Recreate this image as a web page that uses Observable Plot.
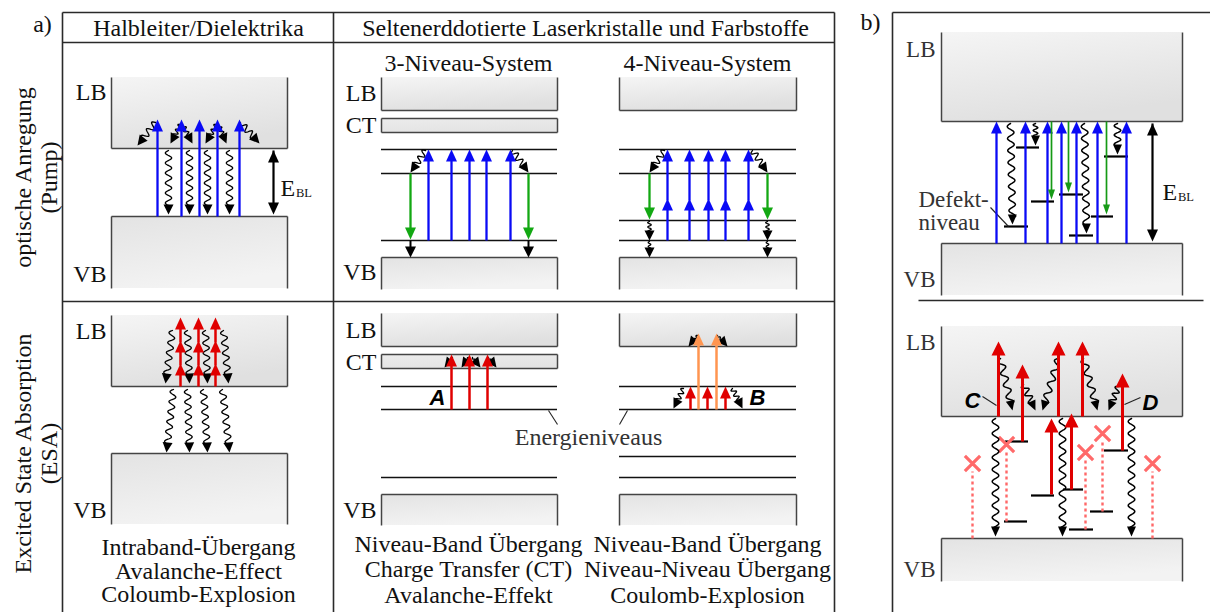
<!DOCTYPE html>
<html><head><meta charset="utf-8">
<script src="https://cdn.jsdelivr.net/npm/d3@7"></script>
<script src="https://cdn.jsdelivr.net/npm/@observablehq/plot@0.6"></script>
<style>html,body{margin:0;padding:0;background:#fff;} #chart svg{display:block}</style>
</head><body><div id="chart"></div>
<script>
// ---------------- data (diagram coordinates) ----------------
const frameLines = [[62,12,834,12],[62,42,834,42],[62,12,62,612],[333,12,333,612],[834,12,834,612],[62,301,834,301],
  [892,12,1210,12],[892,12,892,612],[918,300,1203,300]];

const bands = [
  {x1:111,x2:287,y1:77,y2:148,kind:"LB"},{x1:111,x2:287,y1:216,y2:288,kind:"VB"},
  {x1:381,x2:557,y1:77,y2:110,kind:"LB"},{x1:381,x2:557,y1:118,y2:132,kind:"CT"},{x1:381,x2:557,y1:257,y2:289,kind:"VB"},
  {x1:619,x2:796,y1:77,y2:110,kind:"LB"},{x1:619,x2:796,y1:257,y2:289,kind:"VB"},
  {x1:111,x2:287,y1:315,y2:386,kind:"LB"},{x1:111,x2:287,y1:453,y2:524,kind:"VB"},
  {x1:381,x2:557,y1:313,y2:346,kind:"LB"},{x1:381,x2:557,y1:354,y2:368,kind:"CT"},{x1:381,x2:557,y1:494,y2:525,kind:"VB"},
  {x1:619,x2:796,y1:313,y2:346,kind:"LB"},{x1:619,x2:796,y1:494,y2:525,kind:"VB"},
  {x1:941,x2:1182,y1:32,y2:121,kind:"LB"},{x1:941,x2:1182,y1:243,y2:295,kind:"VB"},
  {x1:941,x2:1182,y1:326,y2:416,kind:"LB"},{x1:941,x2:1182,y1:538,y2:581,kind:"VB"}
];

const bandLabels = [
  [106,92,"LB"],[106,274,"VB"],[376,93,"LB"],[376,125,"CT"],[376,272,"VB"],
  [106,331,"LB"],[106,510,"VB"],[376,330,"LB"],[376,362,"CT"],[376,510,"VB"]];
const bandLabelsB = [[935,49,"LB"],[935,279,"VB"],[935,342,"LB"],[935,569,"VB"]];

const levels = [[381,557,149],[381,557,173],[381,557,240],
  [619,796,149],[619,796,173],[619,796,220],[619,796,240],
  [381,557,386],[381,557,409],[381,557,477],
  [619,796,386],[619,796,409],[619,796,456],[619,796,477]];
const defects = [[1004,1028,226],[1016,1039,147],[1031,1054,201],[1059,1083,194],[1069,1093,235],[1091,1113,216],[1104,1128,156],
  [1005,1028,441],[1031,1054,495],[1063,1083,489],[1004,1027,521],[1090,1113,511],[1069,1093,529],[1104,1128,450]];

// arrows: [x1,y1,x2,y2] from -> to (head at "to")
const pump = [
  [157,216,157,119],[181,216,181,119],[199,216,199,119],[217,216,217,119],[239,216,239,119],
  [428,240,428,149],[451,240,451,149],[469,240,469,149],[486,240,486,149],[510,240,510,149],
  [667,240,667,198],[689,240,689,198],[708,240,708,198],[725,240,725,198],[748,240,748,198],
  [667,200,667,149],[689,200,689,149],[708,200,708,149],[725,200,725,149],[748,200,748,149]];
const pumpB = [[996,243,996,121],[1025,243,1025,121],[1047,243,1047,121],[1061,243,1061,121],[1076,243,1076,121],[1097,243,1097,121],[1126,243,1126,121]];
const emit = [[410,173,410,239],[528,173,528,239],[649,173,649,219],[767,173,767,219]];
const emitB = [[1051,121,1051,199],[1068,121,1068,192],[1106,121,1106,214]];
const relax = [[410,240,410,257],[528,240,528,257]];
const gaps = [[273,150,273,214],[1152,123,1152,241]];
const esa = [
  [180,386,180,363],[180,365,180,340],[180,342,180,317],
  [198,386,198,363],[198,365,198,340],[198,342,198,317],
  [215,386,215,363],[215,365,215,340],[215,342,215,317],
  [451,409,451,354],[469,409,469,354],[487,409,487,354],
  [690,409,690,386],[707,409,707,386],[725,409,725,386]];
const esaOrange = [[698,409,698,333],[716,409,716,333]];
const esaB = [[998,416,998,341],[1022,441,1022,364],[1058,416,1058,341],[1082,416,1082,341],[1122,450,1122,373],[1051,494,1051,418],[1071,489,1071,413]];
const wavy = [
  [168,150,168,214],[189,150,189,214],[207,150,207,214],[229,150,229,214],
  [155,122,137,145],[180,124,170,143],[182,124,192,143],[216,124,205,143],[218,124,226,143],[240,122,259,143],
  [425,150,410,172],[512,150,528,172],[664,150,649,172],[752,150,767,172],
  [649,221,649,240],[767,221,767,240],[649,241,649,257],[767,241,767,257],
  [172,330,165,383],[187,330,189,383],[205,330,207,383],[223,330,228,383],
  [173,389,166,452],[187,389,189,452],[203,389,207,452],[222,389,229,452],
  [683,388,673,408],[732,388,742,408],[697,335,688,346],[717,335,727,346],
  [452,357,444,367],[468,357,461,367],[472,357,480,367],[488,357,496,367]];
const wavyB = [[1010,123,1012,224],[1035,123,1035,145],[1084,123,1086,233],[1117,123,1117,154],
  [995,418,995,536],[1062,418,1062,536],[1131,418,1131,536],
  [1000,358,1012,410],[1023,384,1035,410],[1058,358,1042,410],[1083,358,1097,410],[1118,386,1108,410]];
const blocked = [[972,538,972,471],[1006,521,1006,452],[1085,529,1085,460],[1102,511,1102,441],[1152,538,1152,471]];
const crosses = [[972,463],[1006,444],[1085,452],[1102,433],[1152,463]];
const leaders = [[548,410,557,424],[627,410,619,424],[990,207,1008,226],[982,396,996,405],[1140,397,1124,404]];

const headers = [[198,28,"Halbleiter/Dielektrika"],[585,28,"Seltenerddotierte Laserkristalle und Farbstoffe"],
  [468,63,"3-Niveau-System"],[707,63,"4-Niveau-System"]];
const panelTags = [[42,24,"a)"],[870,22,"b)"]];
const rowLabels = [[23,177,"optische Anregung"],[49,177,"(Pump)"],[23,453,"Excited State Absorption"],[49,453,"(ESA)"]];
const captionLeft = [[198,570.5,"Intraband-Übergang\nAvalanche-Effect\nColoumb-Explosion"]];
const captionMid = [[468,568.5,"Niveau-Band Übergang\nCharge Transfer (CT)\nAvalanche-Effekt"],
  [707,568.5,"Niveau-Band Übergang\nNiveau-Niveau Übergang\nCoulomb-Explosion"]];
const noteCenter = [[588,437,"Energieniveaus"]];
const noteLeft = [[918,211,"Defekt-\nniveau"]];
const processTags = [[437,397,"A"],[757,397,"B"],[972,400,"C"],[1150,402,"D"]];
const ebl = [[280,188],[1162,192]];

// ---------------- helpers ----------------
const SERIF = "'Liberation Serif', 'Times New Roman', serif";
const symCache = new Map();
function headSym(angle, w, h) {
  const key = angle.toFixed(3)+"|"+w+"|"+h;
  if (symCache.has(key)) return symCache.get(key);
  const c = Math.cos(angle), s = Math.sin(angle);
  const sym = {draw(ctx) {
    const bx = -h*c, by = -h*s, px = -s*w/2, py = c*w/2;
    ctx.moveTo(0,0); ctx.lineTo(bx+px,by+py); ctx.lineTo(bx-px,by-py); ctx.closePath();
  }};
  symCache.set(key, sym); return sym;
}
function straightArrows(list, st) {
  const marks = [];
  const segs = list.map(([x1,y1,x2,y2]) => {
    const a = Math.atan2(y2-y1, x2-x1);
    return {x1, y1, x2: x2 - Math.cos(a)*(st.h-2), y2: y2 - Math.sin(a)*(st.h-2), tx: x2, ty: y2, a};
  });
  marks.push(Plot.link(segs, {x1:"x1", y1:"y1", x2:"x2", y2:"y2", stroke: st.color, strokeWidth: st.width}));
  for (const s of segs) marks.push(Plot.dot([s], {x:"tx", y:"ty", r:4, symbol: headSym(s.a, st.w, st.h), fill: st.color, stroke:"none"}));
  if (st.both) for (const [x1,y1,x2,y2] of list) {
    const a = Math.atan2(y1-y2, x1-x2);
    marks.push(Plot.dot([{x:x1,y:y1}], {x:"x", y:"y", r:4, symbol: headSym(a, st.w, st.h), fill: st.color, stroke:"none"}));
  }
  return marks;
}
function wavyArrows(list, st, prefix) {
  const pts = [], heads = [];
  list.forEach(([x1,y1,x2,y2], i) => {
    const a = Math.atan2(y2-y1, x2-x1), c = Math.cos(a), s = Math.sin(a);
    const L = Math.hypot(x2-x1, y2-y1) - (st.h - 2);
    const amp = Math.min(st.amp, L/6), wl = Math.min(st.wl, Math.max(4, L/2.5));
    const n = Math.max(8, Math.ceil(L/0.6));
    for (let k = 0; k <= n; k++) {
      const t = k/n*L, o = amp*Math.sin(2*Math.PI*t/wl);
      pts.push({id: prefix+i, x: x1 + c*t - s*o, y: y1 + s*t + c*o});
    }
    heads.push({x:x2, y:y2, a});
  });
  const marks = [Plot.line(pts, {x:"x", y:"y", z:"id", stroke: st.color, strokeWidth: st.width, curve:"linear"})];
  for (const hd of heads) marks.push(Plot.dot([hd], {x:"x", y:"y", r:4, symbol: headSym(hd.a, st.w, st.h), fill: st.color, stroke:"none"}));
  return marks;
}

// styles
const ST = {
  blue:{color:"#0a0af5", width:2.3, w:11, h:12},
  green:{color:"#13a813", width:2.3, w:11, h:12},
  greenB:{color:"#169a16", width:1.7, w:7, h:10},
  black:{color:"#000", width:2, w:11, h:11},
  gap:{color:"#000", width:2.2, w:11, h:12, both:true},
  red:{color:"#e00000", width:2.5, w:11, h:12},
  redB:{color:"#e00000", width:3, w:14, h:14},
  orange:{color:"#ff9550", width:2.5, w:11, h:12},
  wave:{color:"#000", width:1.3, w:10, h:10, amp:3.2, wl:10},
  waveB:{color:"#000", width:1.5, w:9, h:10, amp:3.3, wl:12}
};

// band edges derived from bands
const edges = [];
for (const b of bands) {
  edges.push([b.x1,b.y1,b.x1,b.y2],[b.x2,b.y1,b.x2,b.y2]);
  if (b.kind === "LB" || b.kind === "CT") edges.push([b.x1,b.y2,b.x2,b.y2]);
  if (b.kind === "VB" || b.kind === "CT") edges.push([b.x1,b.y1,b.x2,b.y1]);
}
const seg = (arr) => arr.map(([x1,y1,x2,y2]) => ({x1,y1,x2,y2}));
const hseg = (arr) => arr.map(([x1,x2,y]) => ({x1,x2,y}));
const txt = (arr) => arr.map(([x,y,t]) => ({x,y,t}));

const plot = Plot.plot({
  width: 1210, height: 612, margin: 0,
  x: {domain:[0,1210], range:[0,1210], axis:null},
  y: {domain:[0,612], range:[0,612], axis:null},
  style: {background:"#fff"},
  marks: [
    Plot.rect(bands, {x1:"x1", x2:"x2", y1:"y1", y2:"y2", fill:"#e8e8e8"}),
    Plot.link(seg(frameLines), {x1:"x1",y1:"y1",x2:"x2",y2:"y2", stroke:"#2a2a2a", strokeWidth:1.6}),
    Plot.link(seg(edges), {x1:"x1",y1:"y1",x2:"x2",y2:"y2", stroke:"#444", strokeWidth:1.5}),
    Plot.ruleY(hseg(levels), {x1:"x1", x2:"x2", y:"y", stroke:"#111", strokeWidth:1.4}),
    Plot.ruleY(hseg(defects), {x1:"x1", x2:"x2", y:"y", stroke:"#000", strokeWidth:2.2}),
    Plot.link(seg(leaders), {x1:"x1",y1:"y1",x2:"x2",y2:"y2", stroke:"#222", strokeWidth:1.1}),
    Plot.link(seg(blocked), {x1:"x1",y1:"y1",x2:"x2",y2:"y2", stroke:"#ff6868", strokeWidth:2.4, strokeDasharray:"3,3"}),
    Plot.dot(crosses.map(([x,y])=>({x,y})), {x:"x", y:"y", symbol:"times", r:7, stroke:"#ff6a6a", strokeWidth:3.2}),
    ...wavyArrows(wavy, ST.wave, "a"),
    ...wavyArrows(wavyB, ST.waveB, "b"),
    ...straightArrows(pump, ST.blue),
    ...straightArrows(pumpB, ST.blue),
    ...straightArrows(emit, ST.green),
    ...straightArrows(emitB, ST.greenB),
    ...straightArrows(relax, ST.black),
    ...straightArrows(gaps, ST.gap),
    ...straightArrows(esa, ST.red),
    ...straightArrows(esaOrange, ST.orange),
    ...straightArrows(esaB, ST.redB),
    Plot.text(txt(headers), {x:"x", y:"y", text:"t", fontSize:24, fontFamily:SERIF, fill:"#111"}),
    Plot.text(txt(panelTags), {x:"x", y:"y", text:"t", fontSize:24, fontFamily:SERIF, fill:"#111"}),
    Plot.text(txt(rowLabels), {x:"x", y:"y", text:"t", fontSize:24, fontFamily:SERIF, fill:"#111", rotate:-90}),
    Plot.text(txt(captionLeft), {x:"x", y:"y", text:"t", fontSize:24, lineHeight:0.98, fontFamily:SERIF, fill:"#111"}),
    Plot.text(txt(captionMid), {x:"x", y:"y", text:"t", fontSize:24, lineHeight:1.06, fontFamily:SERIF, fill:"#111"}),
    Plot.text(txt(bandLabels), {x:"x", y:"y", text:"t", fontSize:24, fontFamily:SERIF, fill:"#111", textAnchor:"end"}),
    Plot.text(txt(bandLabelsB), {x:"x", y:"y", text:"t", fontSize:23, fontFamily:SERIF, fill:"#333", textAnchor:"end"}),
    Plot.text(txt(noteCenter), {x:"x", y:"y", text:"t", fontSize:24, fontFamily:SERIF, fill:"#333"}),
    Plot.text(txt(noteLeft), {x:"x", y:"y", text:"t", textAnchor:"start", fontSize:23, lineHeight:1.0, fontFamily:SERIF, fill:"#333"}),
    Plot.text(txt(processTags), {x:"x", y:"y", text:"t", fontSize:22, fontWeight:"bold", fontStyle:"italic", fontFamily:"'Liberation Sans', Arial, sans-serif", fill:"#000"}),
    Plot.text(ebl.map(([x,y])=>({x,y})), {x:"x", y:"y", text:()=>"E", fontSize:24, fontFamily:SERIF, fill:"#111", textAnchor:"start"}),
    Plot.text(ebl.map(([x,y])=>({x:x+15.5,y:y+4})), {x:"x", y:"y", text:()=>"BL", fontSize:12.5, fontFamily:SERIF, fill:"#111", textAnchor:"start"})
  ]
});

// gradient fills for band boxes
const svg = d3.select(plot);
const defs = svg.insert("defs", ":first-child");
function grad(id, c0, c1) {
  const g = defs.append("linearGradient").attr("id", id).attr("x1",0).attr("y1",0).attr("x2",0.35).attr("y2",1);
  g.append("stop").attr("offset",0).attr("stop-color",c0);
  g.append("stop").attr("offset",1).attr("stop-color",c1);
}
grad("gLB","#f5f5f5","#e0e0e0");
grad("gVB","#e3e3e3","#f3f3f3");
grad("gCT","#ececec","#e4e4e4");
svg.select("g[aria-label='rect']").selectAll("rect").attr("fill", (d, i) => `url(#g${bands[i].kind})`);
document.getElementById("chart").appendChild(plot);
</script>
</body></html>
